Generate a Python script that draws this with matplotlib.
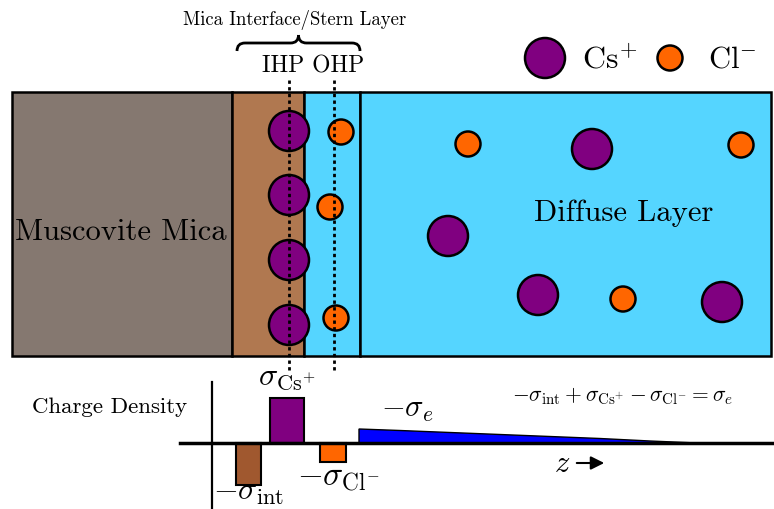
import matplotlib.pyplot as plt
from matplotlib.patches import Rectangle, Circle, Polygon, PathPatch
from matplotlib.path import Path

plt.rcParams['mathtext.fontset'] = 'cm'
plt.rcParams['font.family'] = 'cmr10'
plt.rcParams['axes.formatter.use_mathtext'] = True

# layer boundaries (x, pixel units) and colours
layer_edges = [12, 232, 304, 360, 771]
layer_colors = ['#857870', '#B07850', '#55D5FF', '#55D5FF']
layer_top, layer_bottom = 92, 356

# ions in the Stern layer
ihp_x = 289
ohp_x = 334
cs_stern_y = [131, 195, 260, 325]
cl_stern_x = [341, 330, 336]
cl_stern_y = [132, 207, 318]

# ions in the diffuse layer
cs_diff_x = [448, 592, 538, 722]
cs_diff_y = [236, 149, 295, 302]
cl_diff_x = [468, 741, 623]
cl_diff_y = [144, 145, 299]

cs_color = '#800080'
cl_color = '#FF6600'
r_cs, r_cl = 20, 12.5

# charge density panel
baseline = 443
bar_left = [236, 270, 320]
bar_width = [25, 34, 26]
bar_value = [-42, 45, -19]
bar_colors = ['#A0582F', '#800080', '#FF6600']
diff_x = [359, 400, 450, 500, 550, 600, 650, 690]
diff_h = [14, 12.5, 10.5, 8.5, 6.5, 4.5, 2.0, 0.3]

fig = plt.figure(figsize=(7.74, 5.09), dpi=100)
ax = fig.add_axes([0, 0, 1, 1])
ax.set_xlim(0, 774)
ax.set_ylim(509, 0)
ax.axis('off')

# layers
for i in range(len(layer_colors)):
    ax.add_patch(Rectangle((layer_edges[i], layer_top), layer_edges[i + 1] - layer_edges[i],
                           layer_bottom - layer_top, facecolor=layer_colors[i],
                           edgecolor='black', lw=1.8, zorder=1))

# IHP / OHP dotted lines
for x in [ihp_x, ohp_x]:
    ax.plot([x, x], [80, 372], color='black', ls=(0, (1.2, 1.2)), lw=2, zorder=4)

def ion(x, y, r, c):
    ax.add_patch(Circle((x, y), r, facecolor=c, edgecolor='black', lw=1.8, zorder=3))

for y in cs_stern_y:
    ion(ihp_x, y, r_cs, cs_color)
for x, y in zip(cl_stern_x, cl_stern_y):
    ion(x, y, r_cl, cl_color)
for x, y in zip(cs_diff_x, cs_diff_y):
    ion(x, y, r_cs, cs_color)
for x, y in zip(cl_diff_x, cl_diff_y):
    ion(x, y, r_cl, cl_color)

# legend
ion(545, 58, r_cs, cs_color)
ax.text(582, 60, r'Cs$^{+}$', fontsize=23, va='center', ha='left')
ion(670, 58, r_cl, cl_color)
ax.text(708, 60, r'Cl$^{-}$', fontsize=22, va='center', ha='left')

ax.text(121, 232, 'Muscovite Mica', fontsize=22, ha='center', va='center')
ax.text(624, 213, 'Diffuse Layer', fontsize=22, ha='center', va='center')
ax.text(295, 20, 'Mica Interface/Stern Layer', fontsize=13.5, ha='center', va='center')
ax.text(313, 66, 'IHP OHP', fontsize=17, ha='center', va='center')

# curly brace
bx0, bx1, by = 237, 360, 51
bm = (bx0 + bx1) / 2
top = by - 8
for sgn, xe in [(1, bx0), (-1, bx1)]:
    verts = [(xe, by), (xe, top), (xe + sgn * 8, top),
             (bm - sgn * 8, top), (bm, top), (bm, top - 8)]
    codes = [Path.MOVETO, Path.CURVE3, Path.CURVE3,
             Path.LINETO, Path.CURVE3, Path.CURVE3]
    ax.add_patch(PathPatch(Path(verts, codes), facecolor='none', edgecolor='black', lw=2))

# charge density panel
ax.plot([180, 774], [baseline, baseline], color='black', lw=2.5, zorder=5)
ax.plot([212, 212], [382, 509], color='black', lw=1.6, zorder=5)
ax.bar([l + w / 2 for l, w in zip(bar_left, bar_width)], [-v for v in bar_value],
       width=bar_width, bottom=baseline, color=bar_colors, edgecolor='black', lw=1.5, zorder=4)
poly = [(diff_x[0], baseline)] + [(x, baseline - h) for x, h in zip(diff_x, diff_h)] + [(diff_x[-1], baseline)]
ax.add_patch(Polygon(poly, closed=True, facecolor='#0000FF', edgecolor='black', lw=1, zorder=4))

ax.text(110, 407, 'Charge Density', fontsize=16.5, ha='center', va='center')
ax.text(287, 378, r'$\sigma_{\mathrm{Cs}^{+}}$', fontsize=23, ha='center', va='center')
ax.text(249, 493, r'$-\sigma_{\mathrm{int}}$', fontsize=23, ha='center', va='center')
ax.text(338, 478, r'$-\sigma_{\mathrm{Cl}^{-}}$', fontsize=24, ha='center', va='center')
ax.text(407, 410, r'$-\sigma_e$', fontsize=22, ha='center', va='center')
ax.text(623, 396, r'$-\sigma_{\mathrm{int}}+\sigma_{\mathrm{Cs}^{+}}-\sigma_{\mathrm{Cl}^{-}}=\sigma_e$',
        fontsize=15.5, ha='center', va='center')
ax.text(562, 464, r'$z$', fontsize=22, ha='center', va='center')
ax.annotate('', xy=(607, 463), xytext=(574, 463),
            arrowprops=dict(arrowstyle='-|>', color='black', lw=1.5, mutation_scale=20))

fig.savefig('out.png', dpi=100)
